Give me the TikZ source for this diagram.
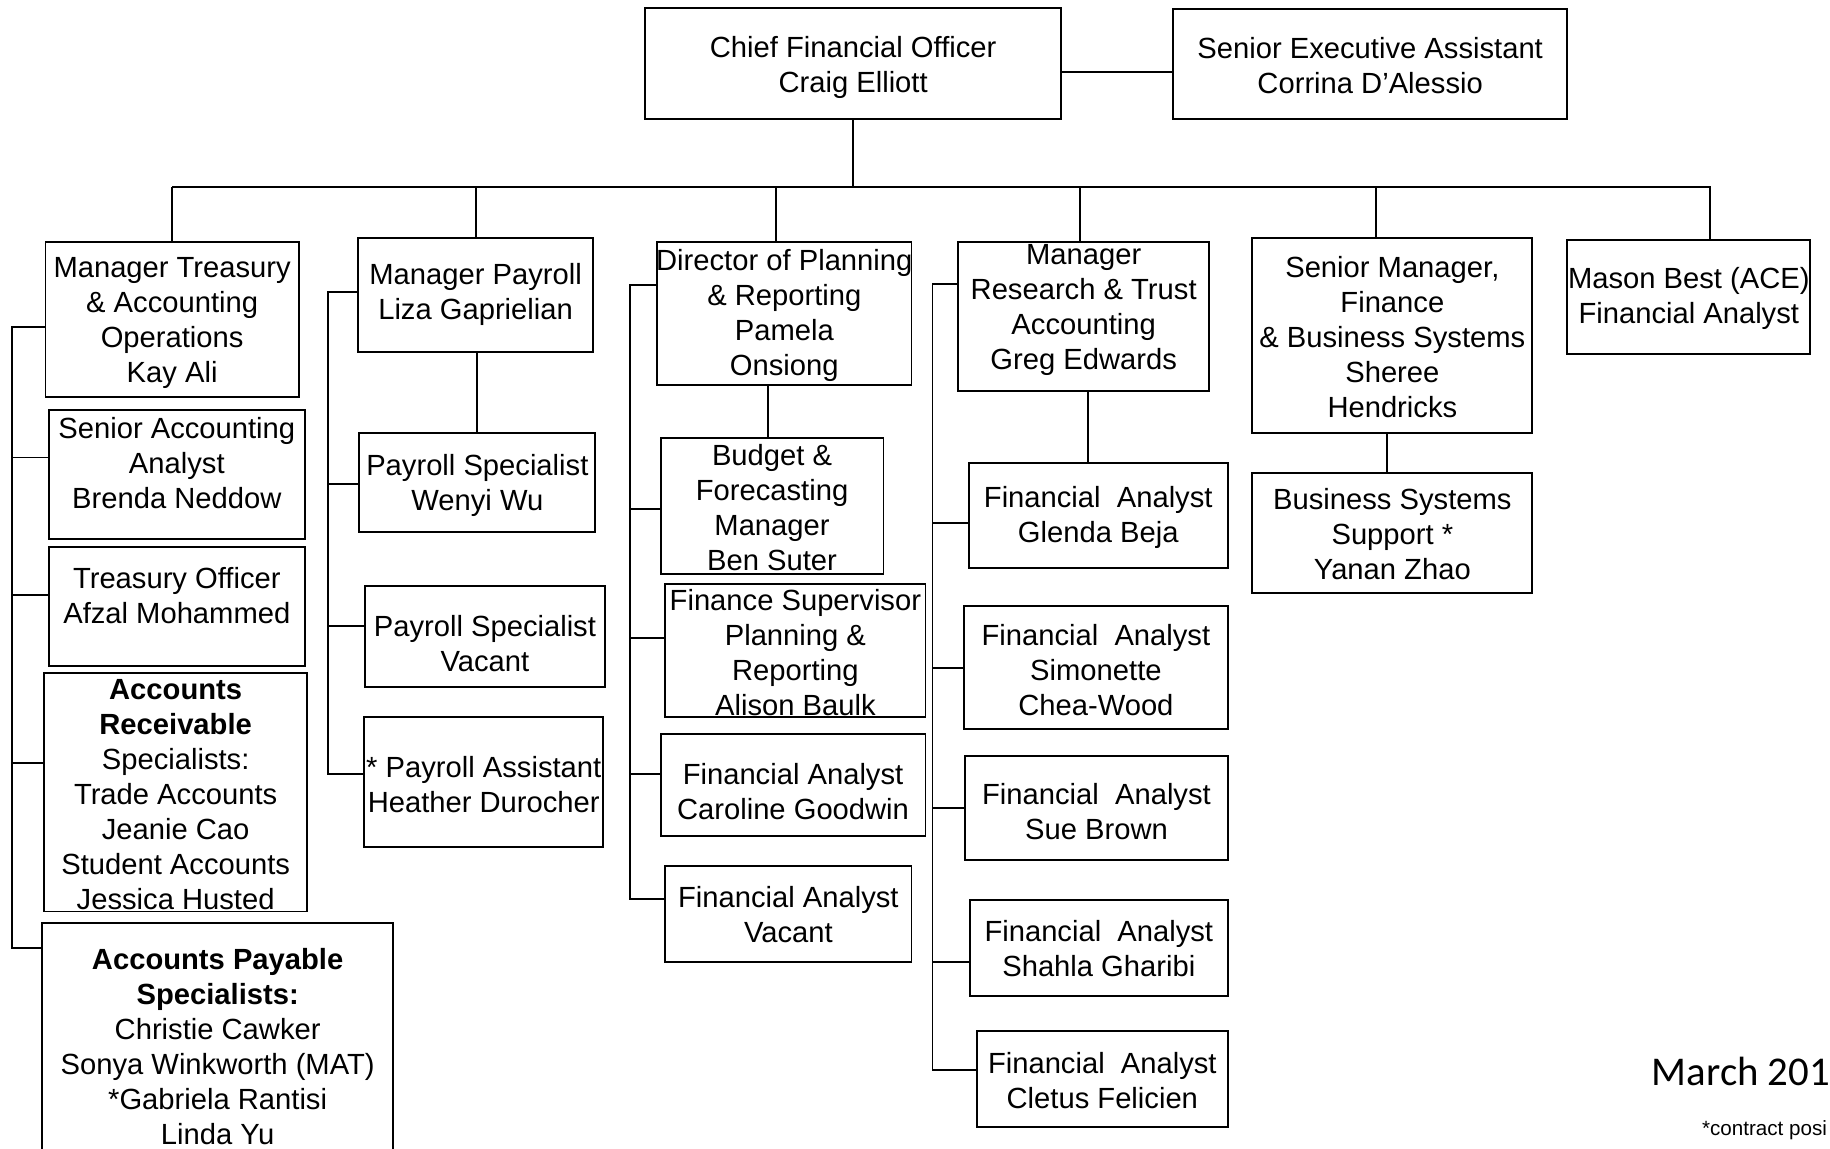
\documentclass[tikz,border=0pt]{standalone}
\usepackage{fontspec}
\setmainfont{Liberation Sans}
\newfontfamily\calib{Carlito}
\usetikzlibrary{fit}
\tikzset{
  bx/.style={draw, inner sep=0pt, line width=1pt},
  tx/.style={align=center, inner sep=0pt, font=\fontsize{15}{18}\selectfont},
  ln/.style={line width=1pt}
}
\newcommand\obox[7]{%
  \node[fit={(#2,#3) (#4,#5)}, bx] (#1) {};
  \node[tx] (#1-t) at ({(#2+#4)/2},#6) {#7};}
\begin{document}
\begin{tikzpicture}[x=0.6pt, y=-0.6pt]
\useasboundingbox (0,0) rectangle (1568,984);
\fill[white] (0,0) rectangle (1568,984);
\clip (0,0) rectangle (1568,984);
% top
\obox{cfo}{553}{7}{909}{102}{58}{Chief Financial Officer\\Craig Elliott}
\obox{sea}{1005}{8}{1343}{102}{56}{Senior Executive Assistant\\Corrina D’Alessio}
% level 1
\obox{tr}{39}{207}{256}{340}{277}{Manager Treasury\\\& Accounting\\Operations\\Kay Ali}
\obox{pay}{307}{204}{508}{302}{252}{Manager Payroll\\Liza Gaprielian}
\obox{dir}{563}{207}{781}{330}{270}{Director of Planning\\\& Reporting\\Pamela\\Onsiong}
\obox{res}{821}{207}{1036}{335}{266}{Manager\\Research \& Trust\\Accounting\\Greg Edwards}
\obox{srm}{1073}{204}{1313}{371}{289}{Senior Manager,\\Finance\\\& Business Systems\\Sheree\\Hendricks}
\obox{mas}{1343}{206}{1551}{303}{256}{Mason Best (ACE)\\Financial Analyst}
% treasury column
\obox{sa}{42}{351}{261}{462}{397}{Senior Accounting\\Analyst\\Brenda Neddow}
\obox{to}{42}{469}{261}{571}{510}{Treasury Officer\\Afzal Mohammed}
\obox{ar}{38}{577}{263}{781}{681}{\textbf{Accounts}\\\textbf{Receivable}\\Specialists:\\Trade Accounts\\Jeanie Cao\\Student Accounts\\Jessica Husted}
\obox{ap}{36}{791}{337}{1010}{897}{\textbf{Accounts Payable}\\\textbf{Specialists:}\\Christie Cawker\\Sonya Winkworth (MAT)\\*Gabriela Rantisi\\Linda Yu}
% payroll column
\obox{ps1}{308}{371}{510}{456}{416}{Payroll Specialist\\Wenyi Wu}
\obox{ps2}{313}{502}{518}{589}{551}{Payroll Specialist\\Vacant}
\obox{pa}{312}{614}{517}{726}{672}{* Payroll Assistant\\Heather Durocher}
% planning column
\obox{bf}{566}{375}{757}{492}{435}{Budget \&\\Forecasting\\Manager\\Ben Suter}
\obox{fs}{570}{500}{793}{614}{559}{Finance Supervisor\\Planning \&\\Reporting\\Alison Baulk}
\obox{fa1}{566}{629}{793}{716}{678}{Financial Analyst\\Caroline Goodwin}
\obox{fa2}{570}{742}{781}{824}{784}{Financial Analyst\\Vacant}
% research column
\obox{gb}{830}{397}{1052}{487}{443}{Financial\ \ Analyst\\Glenda Beja}
\obox{sc}{826}{519}{1052}{625}{574}{Financial\ \ Analyst\\Simonette\\Chea-Wood}
\obox{sb}{827}{648}{1052}{737}{695}{Financial\ \ Analyst\\Sue Brown}
\obox{sg}{831}{771}{1052}{853}{813}{Financial\ \ Analyst\\Shahla Gharibi}
\obox{cf}{837}{883}{1052}{966}{926}{Financial\ \ Analyst\\Cletus Felicien}
% business systems
\obox{bss}{1073}{405}{1313}{508}{458}{Business Systems\\Support *\\Yanan Zhao}
% connectors top
\draw[ln] (cfo.east |- 0,62) -- (sea.west |- 0,62);
\coordinate (bus) at (731,160);
\draw[ln] (cfo.south -| bus) -- (bus);
\draw[ln] (tr.north |- bus) -- (1465,160);
\draw[ln] (tr.north |- bus) -- (tr.north);
\draw[ln] (pay.north |- bus) -- (pay.north);
\draw[ln] (dir.north -| 665,0) |- (bus);
\draw[ln] (res.north -| 925,0) |- (bus);
\draw[ln] (srm.north -| 1179,0) |- (bus);
\draw[ln] (mas.north -| 1465,0) |- (bus);
% treasury spine
\coordinate (s1) at (10,0);
\draw[ln] (tr.west |- 0,280) -- (s1 |- 0,280) -- (s1 |- 0,812) -- (ap.west |- 0,812);
\draw[ln] (s1 |- 0,392) -- (sa.west |- 0,392);
\draw[ln] (s1 |- 0,510) -- (to.west |- 0,510);
\draw[ln] (s1 |- 0,654) -- (ar.west |- 0,654);
% payroll
\draw[ln] (pay.south -| 409,0) -- (ps1.north -| 409,0);
\coordinate (s2) at (281,0);
\draw[ln] (pay.west |- 0,250) -- (s2 |- 0,250) -- (s2 |- 0,663) -- (pa.west |- 0,663);
\draw[ln] (s2 |- 0,415) -- (ps1.west |- 0,415);
\draw[ln] (s2 |- 0,536) -- (ps2.west |- 0,536);
% planning
\draw[ln] (dir.south -| 658,0) -- (bf.north -| 658,0);
\coordinate (s3) at (540,0);
\draw[ln] (dir.west |- 0,244) -- (s3 |- 0,244) -- (s3 |- 0,770) -- (fa2.west |- 0,770);
\draw[ln] (s3 |- 0,436) -- (bf.west |- 0,436);
\draw[ln] (s3 |- 0,547) -- (fs.west |- 0,547);
\draw[ln] (s3 |- 0,663) -- (fa1.west |- 0,663);
% research
\draw[ln] (res.south -| 932,0) -- (gb.north -| 932,0);
\coordinate (s4) at (799,0);
\draw[ln] (res.west |- 0,243) -- (s4 |- 0,243) -- (s4 |- 0,917) -- (cf.west |- 0,917);
\draw[ln] (s4 |- 0,448) -- (gb.west |- 0,448);
\draw[ln] (s4 |- 0,572) -- (sc.west |- 0,572);
\draw[ln] (s4 |- 0,692) -- (sb.west |- 0,692);
\draw[ln] (s4 |- 0,824) -- (sg.west |- 0,824);
% business systems
\draw[ln] (srm.south -| 1188,0) -- (bss.north -| 1188,0);
% notes
\node[anchor=base west, inner sep=0pt, font=\calib\fontsize{21}{24}\selectfont] (date) at (1415,930) {March 201};
\node[anchor=base west, inner sep=0pt, font=\fontsize{10.6}{12}\selectfont] (note) at (1458,973) {*contract posi};
\end{tikzpicture}
\end{document}
